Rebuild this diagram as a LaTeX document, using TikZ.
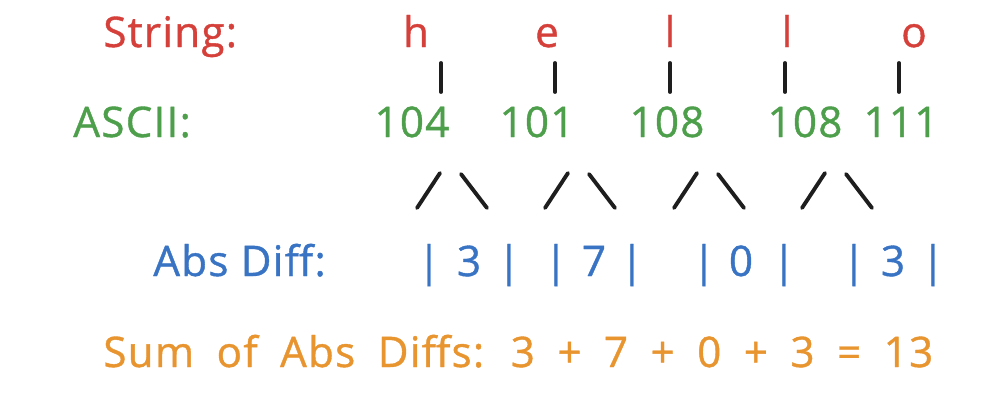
\documentclass[tikz,border=0pt]{standalone}
\usepackage{fontspec}
\setmainfont{Open Sans}[LetterSpace=3, FakeBold=0.9]
\definecolor{strred}{HTML}{D6403A}
\definecolor{ascgreen}{HTML}{4E9F4B}
\definecolor{difblue}{HTML}{3873C4}
\definecolor{sumorange}{HTML}{E8942F}
\definecolor{inkblack}{HTML}{1E1E1E}

\begin{document}
\begin{tikzpicture}[x=0.02cm,y=-0.02cm,
  lbl/.style={font=\fontsize{24}{28}\selectfont, inner sep=0pt, anchor=base},
  stroke/.style={draw=inkblack, line width=2.2pt, line cap=round}]

\def\rowstr{47};
\def\rowasc{137};
\def\rowdif{276};
\def\rowsum{367};

\useasboundingbox (0,0) rectangle (1000,406);

% string
\node[lbl, anchor=base west, text=strred] (str) at (103,\rowstr) {String:};
\foreach \x/\ch [count=\i] in {416/h, 547/e, 670/l, 787/l, 914/o}
  \node[lbl, text=strred] (ch\i) at (\x,\rowstr) {\ch};

% ticks down to the codes
\foreach \x [count=\i] in {441,555,670,785,899} {
  \coordinate (tk\i a) at (\x,63);
  \coordinate (tk\i b) at (\x,92);
  \draw[stroke] (tk\i a) -- (tk\i b);
}

% ascii codes
\node[lbl, anchor=base west, text=ascgreen] (asc) at (73,\rowasc) {ASCII:};
\foreach \x/\n [count=\i] in {412/104, 537/101, 667/108, 805/108, 901/111}
  \node[lbl, text=ascgreen] (num\i) at (\x,\rowasc) {\n};

% pairs of neighbours
\foreach \dx [count=\i] in {0,128,257,385} {
  \coordinate (lf\i a) at ({417+\dx},208);
  \coordinate (lf\i b) at ({440+\dx},173);
  \coordinate (rt\i a) at ({461+\dx},174);
  \coordinate (rt\i b) at ({487+\dx},208);
  \draw[stroke] (lf\i a) -- (lf\i b);
  \draw[stroke] (rt\i a) -- (rt\i b);
}

% absolute differences
\node[lbl, anchor=base west, text=difblue] (dif) at (153,\rowdif) {Abs Diff:};
\foreach \x/\g [count=\i] in {429/|, 469/3, 509/|, 556/|, 594/7, 632/|, 704/|, 741/0, 784/|, 854/|, 893/3, 933/|}
  \node[lbl, text=difblue] (d\i) at (\x,\rowdif) {\g};

% total
\node[lbl, anchor=base west, text=sumorange] (sum) at (103,\rowsum)
  {\spaceskip=0.45cm\relax Sum of Abs Diffs: 3 + 7 + 0 + 3 = 13};
\end{tikzpicture}
\end{document}
